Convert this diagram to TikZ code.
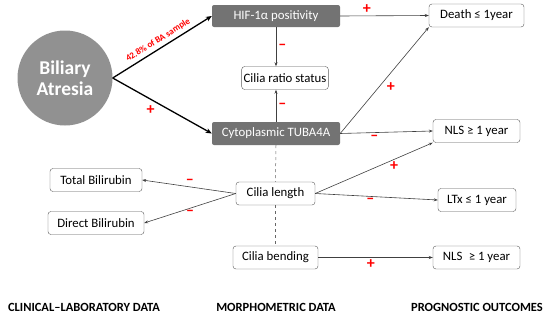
\documentclass[tikz,border=0pt]{standalone}
\usepackage{fontspec}
\setmainfont{Carlito}
\usetikzlibrary{positioning, arrows.meta}

\begin{document}
\begin{tikzpicture}[
  x=1pt, y=-1pt,
  every node/.style={font=\fontsize{12.8}{15}\selectfont},
  disease/.style={
    circle, fill=black!43, text=white,
    minimum size=95pt, align=center, inner sep=0pt,
    font=\bfseries\fontsize{19.5}{21}\selectfont
  },
  marker/.style={
    rectangle, rounded corners=2pt, fill=black!55, text=white,
    minimum width=128pt, minimum height=22pt, inner sep=2pt
  },
  result/.style={
    rectangle, draw=black!65, rounded corners=3pt, fill=white,
    minimum height=23pt, inner sep=2pt
  },
  sign/.style={text=red, font=\bfseries\fontsize{16}{16}\selectfont, inner sep=2pt},
  heading/.style={font=\bfseries\fontsize{12.5}{14}\selectfont},
  link/.style={-{Stealth[length=4pt, width=3pt]}, draw=black!75, line width=0.6pt},
  main/.style={-{Stealth[length=6pt, width=5pt]}, line width=1.3pt}
]

\useasboundingbox (0,0) rectangle (550,316);

% ---- Disease (left) ----
\node[disease] (atresia) at (65,78) {Biliary\\Atresia};

% ---- Markers and cilia ratio (middle, top) ----
\node[marker] (hif) at (276,16) {HIF-1α positivity};
\node[result, minimum width=84pt] (ratio) at (285,78) {Cilia ratio status};
\node[marker, minimum height=23pt] (tuba) at (276,133.5) {Cytoplasmic TUBA4A};

% ---- Morphometric data (middle, bottom) ----
\node[result, minimum width=79pt] (length) at (275.5,193.5) {Cilia length};
\node[result, minimum width=85pt] (bending) at (275.5,257.5) {Cilia bending};

% ---- Clinical-laboratory data (left) ----
\node[result, minimum width=92pt] (total) at (96,180) {Total Bilirubin};
\node[result, minimum width=96pt] (direct) at (96,223) {Direct Bilirubin};

% ---- Prognostic outcomes (right) ----
\node[result, minimum width=95pt] (death) at (476.5,15.5) {Death ≤ 1year};
\node[result, minimum width=87pt] (nlsA) at (476.5,131) {NLS ≥ 1 year};
\node[result, minimum width=78pt] (ltx) at (477,200) {LTx ≤ 1 year};
\node[result, minimum width=87pt] (nlsB) at (476.5,257.5) {NLS\enspace≥ 1 year};

% ---- Column headings ----
\node[heading] (clinical) at (84,307) {CLINICAL–LABORATORY DATA};
\node[heading] (morpho) at (276,307) {MORPHOMETRIC DATA};
\node[heading] (prognostic) at (477,307) {PROGNOSTIC OUTCOMES};

% ---- Arrows: disease to markers ----
\draw[main] (atresia.east) -- node[sloped, above, pos=0.5, text=red,
  font=\bfseries\fontsize{9}{10}\selectfont] {42.8\% of BA sample} (hif.west);
\draw[main] (atresia.east) -- node[sign, below left, pos=0.45] {+} (tuba.west);

% ---- Arrows: markers to cilia ratio ----
\draw[link] (hif.south) -- node[sign, right] {–} (hif.south |- ratio.north);
\draw[link] (tuba.north) -- node[sign, right] {–} (tuba.north |- ratio.south);

% ---- Arrows: markers to outcomes ----
\draw[link] (hif.east) -- node[sign, above, pos=0.3] {+} (death.west);
\draw[link] (tuba.east) -- node[sign, below right, pos=0.5] {+} (death.south west);
\draw[link] (tuba.east) -- node[sign, below, pos=0.37] {–} (nlsA.west);

% ---- Dashed link through the morphometric column ----
\draw[dashed, draw=black!60, line width=0.5pt] (tuba.south) -- (length.north);
\draw[dashed, draw=black!60, line width=0.5pt] (length.south) -- (bending.north);

% ---- Arrows: cilia length and bending ----
\draw[link] (length.east) -- node[sign, below, pos=0.67] {+} (nlsA.south west);
\draw[link] (length.east) -- node[sign, below, pos=0.45] {–} (ltx.west);
\draw[link] (length.west) -- node[sign, above, pos=0.49] {–} (total.east);
\draw[link] (length.west) -- node[sign, below, pos=0.5] {–} (direct.east);
\draw[link] (bending.east) -- node[sign, below, pos=0.46] {+} (nlsB.west);

\end{tikzpicture}
\end{document}
